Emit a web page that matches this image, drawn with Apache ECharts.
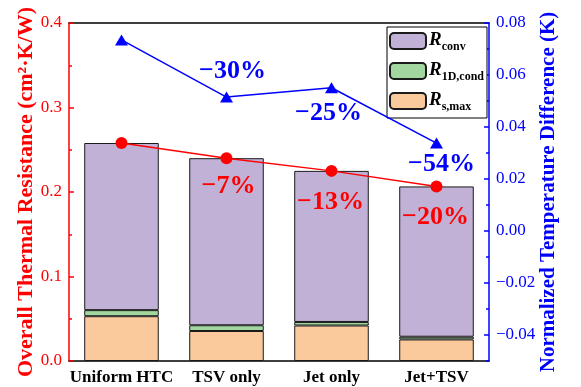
<!DOCTYPE html>
<html>
<head>
<meta charset="utf-8">
<script src="https://cdn.jsdelivr.net/npm/echarts@6/dist/echarts.min.js"></script>
<style>
  html, body { margin: 0; padding: 0; background: #fff; }
  #chart { width: 581px; height: 387px; }
</style>
</head>
<body>
<div id="chart"></div>
<script>
// Cooling schemes compared
const categories = ['Uniform HTC', 'TSV only', 'Jet only', 'Jet+TSV'];

// Thermal resistance components (cm²·K/W), stacked bottom to top
const rSMax = [0.053, 0.0355, 0.042, 0.0255];
const r1DCond = [0.0072, 0.0068, 0.0042, 0.0032];
const rConv = [0.1978, 0.1977, 0.1788, 0.1779];

// Normalized temperature difference (K)
const normTempDiff = [0.0735, 0.0515, 0.0551, 0.0338];

// Reduction labels relative to Uniform HTC
const resistanceLabels = ['', '\u22127%', '\u221213%', '\u221220%'];
const tempDiffLabels = ['', '\u221230%', '\u221225%', '\u221254%'];

// Axis tick labels
const leftTicks = [0, 0.1, 0.2, 0.3, 0.4];
const rightTicks = [-0.04, -0.02, 0, 0.02, 0.04, 0.06, 0.08];
const rightMinorTicks = [-0.05, -0.03, -0.01, 0.01, 0.03, 0.05, 0.07];

const totalResistance = rSMax.map((v, i) => +(v + r1DCond[i] + rConv[i]).toFixed(4));

const SERIF = 'Liberation Serif, Times New Roman, serif';
const RED = '#ff0000';
const BLUE = '#0000ff';

const redLabelOffsets = [[0, 0], [2, 28], [-1, 31], [-1, 31]];
const blueLabelOffsets = [[0, 0], [6, -26], [-3, 26], [5, 21]];

const legendSub = { 'R_conv': 'conv', 'R_1D,cond': '1D,cond', 'R_s,max': 's,max' };

function pctLabels(labels, offsets, color) {
  return labels.map((t, i) => ({
    show: t !== '',
    position: 'inside',
    offset: offsets[i],
    formatter: () => t,
    color: color,
    fontFamily: SERIF,
    fontWeight: 'bold',
    fontSize: 26
  }));
}

const chart = echarts.init(document.getElementById('chart'), null, { renderer: 'canvas' });

const catAxisBase = {
  type: 'category',
  data: categories,
  boundaryGap: true,
  axisLabel: { show: false },
  splitLine: { show: false }
};

const barStyle = (color) => ({ color: color, borderColor: '#1a1a1a', borderWidth: 1 });

chart.setOption({
  animation: false,
  backgroundColor: '#fff',
  grid: { left: 69, right: 92, top: 23, bottom: 26, containLabel: false },
  legend: {
    data: ['R_conv', 'R_1D,cond', 'R_s,max'],
    orient: 'vertical',
    left: 387,
    top: 27,
    itemWidth: 36,
    itemHeight: 16,
    itemGap: 8,
    padding: [4, 3, 5, 2],
    borderColor: '#000',
    borderWidth: 1,
    backgroundColor: '#fff',
    selectedMode: false,
    formatter: (name) => '{r|R}{s|' + legendSub[name] + '}',
    textStyle: {
      padding: [0, 0, 0, -2],
      rich: {
        r: { fontFamily: SERIF, fontWeight: 'bold', fontStyle: 'italic', fontSize: 19, color: '#000', lineHeight: 20, verticalAlign: 'top' },
        s: { fontFamily: SERIF, fontWeight: 'bold', fontSize: 12, color: '#000', lineHeight: 12, verticalAlign: 'top', padding: [10, 0, 0, 0] }
      }
    }
  },
  xAxis: [
    Object.assign({}, catAxisBase, {
      position: 'bottom',
      axisLine: { onZero: false, lineStyle: { color: '#000', width: 1.5 } },
      axisTick: { inside: true, alignWithLabel: true, length: 5, lineStyle: { color: '#000', width: 1.5 } },
      axisLabel: { show: true, interval: 0, color: '#000', fontFamily: SERIF, fontWeight: 'bold', fontSize: 17, margin: 8 }
    }),
    Object.assign({}, catAxisBase, {
      position: 'bottom',
      axisLine: { show: false, onZero: false },
      axisTick: { inside: true, interval: 0, length: 3, lineStyle: { color: '#000', width: 1.5 } }
    }),
    Object.assign({}, catAxisBase, {
      position: 'top',
      axisLine: { onZero: false, lineStyle: { color: '#000', width: 1.5 } },
      axisTick: { inside: true, alignWithLabel: true, length: 5, lineStyle: { color: '#000', width: 1.5 } }
    }),
    Object.assign({}, catAxisBase, {
      position: 'top',
      axisLine: { show: false, onZero: false },
      axisTick: { inside: true, interval: 0, length: 3, lineStyle: { color: '#000', width: 1.5 } }
    })
  ],
  yAxis: [
    {
      type: 'value',
      position: 'left',
      min: leftTicks[0],
      max: leftTicks[leftTicks.length - 1],
      interval: 0.1,
      name: 'Overall Thermal Resistance (cm\u00B2\u00B7K/W)',
      nameLocation: 'middle',
      nameGap: 32,
      nameMoveOverlap: false,
      nameTextStyle: { color: RED, fontFamily: SERIF, fontWeight: 'bold', fontSize: 22 },
      axisLine: { show: true, lineStyle: { color: RED, width: 1.5 } },
      axisTick: { show: true, inside: true, length: 5, lineStyle: { color: RED, width: 1.5 } },
      minorTick: { show: true, splitNumber: 2, length: 3, lineStyle: { color: RED, width: 1.5 } },
      axisLabel: { color: RED, fontFamily: SERIF, fontSize: 17, margin: 7, formatter: (v) => v.toFixed(1) },
      splitLine: { show: false },
      minorSplitLine: { show: false }
    },
    {
      type: 'value',
      position: 'right',
      min: -0.05,
      max: 0.08,
      name: 'Normalized Temperature Difference (K)',
      nameLocation: 'middle',
      nameGap: 49,
      nameRotate: 90,
      nameMoveOverlap: false,
      nameTextStyle: { color: BLUE, fontFamily: SERIF, fontWeight: 'bold', fontSize: 21 },
      axisLine: { show: true, lineStyle: { color: BLUE, width: 1.5 } },
      axisTick: { show: true, inside: true, length: 5, customValues: rightTicks, lineStyle: { color: BLUE, width: 1.5 } },
      axisLabel: {
        color: BLUE, fontFamily: SERIF, fontSize: 17, margin: 7,
        customValues: rightTicks,
        formatter: (v) => (v < 0 ? '\u2212' : '') + Math.abs(v).toFixed(2)
      },
      splitLine: { show: false }
    },
    {
      type: 'value',
      position: 'right',
      min: -0.05,
      max: 0.08,
      axisLine: { show: false },
      axisTick: { show: true, inside: true, length: 3, customValues: rightMinorTicks, lineStyle: { color: BLUE, width: 1.5 } },
      axisLabel: { show: false, customValues: rightMinorTicks },
      splitLine: { show: false }
    }
  ],
  series: [
    {
      name: 'R_s,max', type: 'bar', stack: 'r', barWidth: '71%',
      xAxisIndex: 0, yAxisIndex: 0,
      itemStyle: barStyle('#fac99c'), data: rSMax, z: 2
    },
    {
      name: 'R_1D,cond', type: 'bar', stack: 'r', barWidth: '71%',
      xAxisIndex: 0, yAxisIndex: 0,
      itemStyle: barStyle('#a2d79f'), data: r1DCond, z: 2
    },
    {
      name: 'R_conv', type: 'bar', stack: 'r', barWidth: '71%',
      xAxisIndex: 0, yAxisIndex: 0,
      itemStyle: barStyle('#c1b1d6'), data: rConv, z: 2
    },
    {
      name: 'Overall', type: 'line',
      xAxisIndex: 0, yAxisIndex: 0,
      symbol: 'circle', symbolSize: 12,
      lineStyle: { color: RED, width: 1.5 },
      itemStyle: { color: RED },
      data: totalResistance.map((v, i) => ({ value: v, label: pctLabels(resistanceLabels, redLabelOffsets, RED)[i] })),
      z: 5
    },
    {
      name: 'Temperature', type: 'line',
      xAxisIndex: 0, yAxisIndex: 1,
      symbol: 'triangle', symbolSize: [13, 11],
      lineStyle: { color: BLUE, width: 1.5 },
      itemStyle: { color: BLUE },
      data: normTempDiff.map((v, i) => ({ value: v, label: pctLabels(tempDiffLabels, blueLabelOffsets, BLUE)[i] })),
      z: 5
    }
  ]
});
</script>
</body>
</html>
